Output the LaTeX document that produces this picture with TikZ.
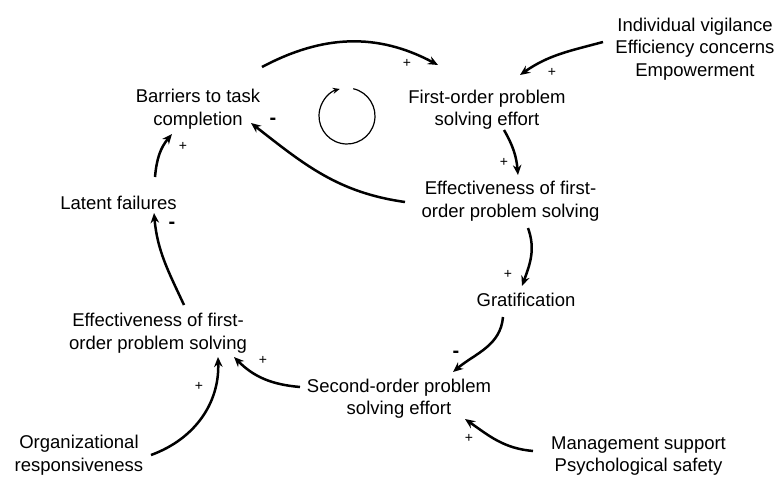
\documentclass[tikz,border=0pt]{standalone}
\usepackage{fontspec}
\setmainfont{Liberation Sans}
\usetikzlibrary{arrows.meta,calc}
\begin{document}
\begin{tikzpicture}[x=1pt,y=1pt,
  var/.style={align=center,inner sep=0pt,font=\fontsize{18.5}{22.5}\selectfont},
  link/.style={line width=2.5pt,-{Stealth[length=10pt,width=8.5pt]}},
  loopmark/.style={line width=1.2pt,-{Stealth[length=7pt,width=6pt]}},
  plussign/.style={font=\fontsize{14}{14}\selectfont,inner sep=0pt},
  minussign/.style={font=\bfseries\fontsize{20}{20}\selectfont,inner sep=0pt}]
\useasboundingbox (0,0) rectangle (778,-477);

% variables
\node[var] (bar)  at (198,-109)   {Barriers to task\\completion};
\node[var] (fo)   at (487,-109.5) {First-order problem\\solving effort};
\node[var] (ind)  at (695,-49)    {Individual vigilance\\Efficiency concerns\\Empowerment};
\node[var] (effR) at (510.5,-201) {Effectiveness of first-\\order problem solving};
\node[var] (grat) at (526,-300)   {Gratification};
\node[var] (lat)  at (118.5,-203) {Latent failures};
\node[var] (effL) at (158,-333)   {Effectiveness of first-\\order problem solving};
\node[var] (so)   at (399,-398.5) {Second-order problem\\solving effort};
\node[var] (org)  at (79,-455)    {Organizational\\responsiveness};
\node[var] (mgt)  at (638.5,-456) {Management support\\Psychological safety};

% causal links
\draw[link] ($(bar)+(64,42)$)      to[out=28,in=152]  ($(fo)+(-49,44.5)$);
\draw[link] ($(ind)+(-92,7)$)      to[out=195,in=35]  ($(fo)+(33,34.5)$);
\draw[link] ($(fo)+(17,-20.5)$)    to[out=-60,in=95]  ($(effR)+(7.5,26)$);
\draw[link] ($(effR)+(-105.5,-1)$) to[out=172,in=-38] ($(bar)+(53,-14)$);
\draw[link] ($(effR)+(17.5,-27)$)  to[out=-70,in=70]  ($(grat)+(-4,14)$);
\draw[link] ($(grat)+(-23,-17)$)   to[out=-95,in=40]  ($(so)+(54,26.5)$);
\draw[link] ($(so)+(-99,11.5)$)    to[out=175,in=-45] ($(effL)+(76,-24)$);
\draw[link] ($(org)+(72,0)$)       to[out=20,in=-88]  ($(effL)+(60,-24)$);
\draw[link] ($(mgt)+(-105.5,5)$)   to[out=175,in=-35] ($(so)+(66,-20.5)$);
\draw[link] ($(effL)+(26,28)$)     to[out=115,in=-85] ($(lat)+(35.5,-10)$);
\draw[link] ($(lat)+(36.5,26)$)    to[out=85,in=-130] ($(bar)+(-26,-25)$);

% loop marker
\coordinate (loopc) at (347,-116);
\draw[loopmark] ($(loopc)+(77:28)$) arc[start angle=77,end angle=-255,radius=28];

% polarities
\node[plussign] (p1) at (407,-63)  {+};
\node[plussign] (p2) at (552,-72)  {+};
\node[plussign] (p3) at (504,-162) {+};
\node[plussign] (p4) at (508,-274) {+};
\node[plussign] (p5) at (263,-360) {+};
\node[plussign] (p6) at (199,-386) {+};
\node[plussign] (p7) at (469,-438) {+};
\node[plussign] (p8) at (183,-146) {+};
\node[minussign] (n1) at (273,-121.5) {-};
\node[minussign] (n2) at (172,-225.5) {-};
\node[minussign] (n3) at (456,-354.5) {-};
\end{tikzpicture}
\end{document}
